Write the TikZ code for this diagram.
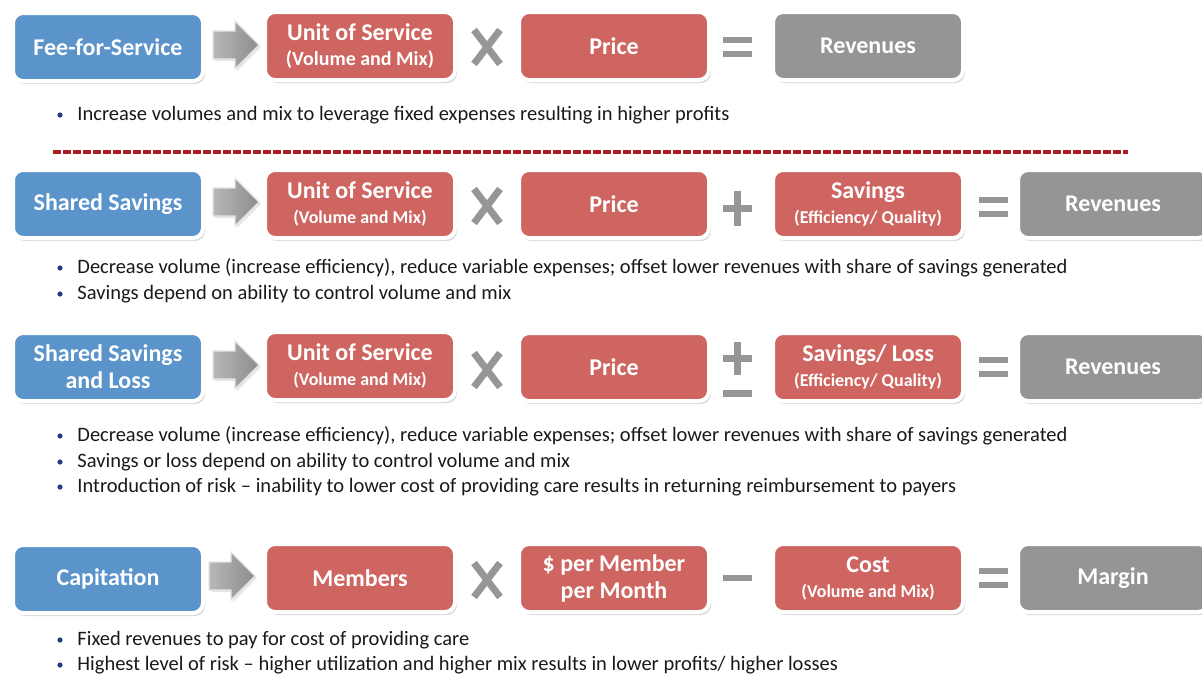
\documentclass[tikz,border=0pt]{standalone}
\usepackage{fontspec}
\setmainfont{Carlito}
\usetikzlibrary{shadows}
\definecolor{boxblue}{RGB}{91,148,202}
\definecolor{boxred}{RGB}{206,101,96}
\definecolor{boxgray}{RGB}{149,149,149}
\definecolor{opgray}{RGB}{150,150,150}
\definecolor{dashred}{RGB}{168,28,36}
\definecolor{dotblue}{RGB}{35,60,135}
\definecolor{txtdark}{RGB}{25,25,25}
\tikzstyle{boxbase}=[rounded corners=5pt,draw=white,line width=2pt,text=white,align=center,inner sep=0pt,minimum width=95pt,minimum height=34pt,font=\bfseries\fontsize{12}{13.5}\selectfont,drop shadow={opacity=0.3,shadow xshift=1pt,shadow yshift=-1.5pt}]
\tikzstyle{boxb}=[boxbase,fill=boxblue]
\tikzstyle{boxr}=[boxbase,fill=boxred]
\tikzstyle{boxg}=[boxbase,fill=boxgray]
\tikzstyle{arrfill}=[draw=black!10,line width=0.6pt,left color=black!28,right color=black!45,drop shadow={opacity=0.2,shadow xshift=1pt,shadow yshift=-1pt}]
\tikzstyle{opline}=[draw=opgray,line width=3.5pt]
\tikzstyle{btext}=[anchor=base west,inner sep=0pt,text=txtdark,font=\fontsize{10.25}{12}\selectfont]
\tikzstyle{dashline}=[draw=dashred,line width=2pt,dash pattern=on 4pt off 1pt]
\newcommand{\sub}[1]{{\fontsize{9}{10}\selectfont #1}}
\newcommand{\subbig}[1]{{\fontsize{10}{11}\selectfont #1}}

\begin{document}
\begin{tikzpicture}[x=0.5pt,y=-0.5pt]
    \useasboundingbox (0,0) rectangle (1202,675);
    % row 1
    \node[boxb] (ffs) at (108,47) {Fee-for-Service};
    \node[boxr] (u1) at (360,46) {Unit of Service\\[-1pt]\subbig{(Volume and Mix)}};
    \node[boxr] (p1) at (614,46) {Price};
    \node[boxg] (r1) at (868,46) {Revenues};
    % row 2
    \node[boxb] (ss) at (108,204) {Shared Savings};
    \node[boxr] (u2) at (360,204) {Unit of Service\\[-1pt]\sub{(Volume and Mix)}};
    \node[boxr] (p2) at (614,204) {Price};
    \node[boxr] (s2) at (868,204) {Savings\\[-1pt]\sub{(Efficiency/ Quality)}};
    \node[boxg] (r2) at (1113,204) {Revenues};
    % row 3
    \node[boxb] (ssl) at (108,367) {Shared Savings\\and Loss};
    \node[boxr] (u3) at (360,366) {Unit of Service\\[-1pt]\sub{(Volume and Mix)}};
    \node[boxr] (p3) at (614,367) {Price};
    \node[boxr] (s3) at (868,367) {Savings/ Loss\\[-1pt]\sub{(Efficiency/ Quality)}};
    \node[boxg] (r3) at (1113,367) {Revenues};
    % row 4
    \node[boxb] (cap) at (108,579) {Capitation};
    \node[boxr] (m4) at (360,578) {Members};
    \node[boxr] (pm4) at (614,578) {\$ per Member\\per Month};
    \node[boxr] (c4) at (868,578) {Cost\\[-1pt]\sub{(Volume and Mix)}};
    \node[boxg] (mg4) at (1113,578) {Margin};

    % block arrows
    \foreach \x/\y in {213/45,213/202,213/365,209/576}
    \draw[arrfill] (\x,\y-14) -- (\x+22,\y-14) -- (\x+22,\y-24) -- (\x+46,\y)
      -- (\x+22,\y+24) -- (\x+22,\y+14) -- (\x,\y+14) -- cycle;

    % operators
    \foreach \y in {47,206,370,580}
    \draw[opline] (474,\y-17) -- (500,\y+17) (474,\y+17) -- (500,\y-17);
    \foreach \x/\y in {737/47,993/207,993/367,993/578}
    \draw[opline,line width=2.6pt] (\x-14,\y-7) -- (\x+15,\y-7) (\x-14,\y+7) -- (\x+15,\y+7);
    \draw[opline] (723,208) -- (752,208) (737.5,191) -- (737.5,226);
    \draw[opline] (723,358) -- (752,358) (737.5,342) -- (737.5,375);
    \draw[opline] (723,393) -- (752,393);
    \draw[opline,line width=3pt] (723,578) -- (752,578);

    % separator
    \coordinate (dl) at (53,152);
    \coordinate (dr) at (1128,152);
    \draw[dashline] (dl) -- (dr);

    % bullets
    \foreach \y/\t [count=\i] in {
      115/{Increase volumes and mix to leverage fixed expenses resulting in higher profits},
      268/{Decrease volume (increase efficiency), reduce variable expenses; offset lower revenues with share of savings generated},
      294/{Savings depend on ability to control volume and mix},
      436/{Decrease volume (increase efficiency), reduce variable expenses; offset lower revenues with share of savings generated},
      462/{Savings or loss depend on ability to control volume and mix},
      487/{Introduction of risk – inability to lower cost of providing care results in returning reimbursement to payers},
      640/{Fixed revenues to pay for cost of providing care},
      665/{Highest level of risk – higher utilization and higher mix results in lower profits/ higher losses}}
    {
      \fill[dotblue] (60,\y) circle (1.3pt);
      \node[btext] (b\i) at (77,\y+5) {\t};
    }
\end{tikzpicture}
\end{document}
